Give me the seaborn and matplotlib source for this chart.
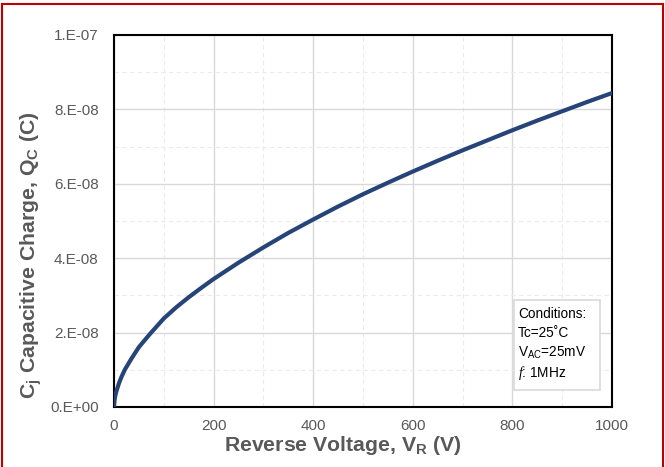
import matplotlib
matplotlib.use("Agg")
import matplotlib.pyplot as plt
from matplotlib.patches import Rectangle
from matplotlib.ticker import FixedLocator, FixedFormatter, MultipleLocator
import pandas as pd
import seaborn as sns

# Capacitive charge vs. reverse voltage (nC)
voltage_v = [0, 1, 2, 3, 5, 10, 15, 22, 35, 50, 72, 100, 125, 150, 175, 200, 250, 300, 350, 400,
             450, 500, 550, 600, 650, 700, 750, 800, 850, 900, 950, 1000]
charge_nc = [0, 1.7, 2.6, 3.3, 4.3, 6.4, 8.1, 10.1, 13.0, 16.1, 19.6, 23.8, 26.8, 29.5, 32.0, 34.4,
             38.8, 42.9, 46.8, 50.4, 53.9, 57.2, 60.3, 63.3, 66.2, 69.0, 71.7, 74.4, 77.0, 79.5, 82.0, 84.4]

y_ticks = [0, 2e-8, 4e-8, 6e-8, 8e-8, 1e-7]
y_tick_labels = ["0.E+00", "2.E-08", "4.E-08", "6.E-08", "8.E-08", "1.E-07"]
x_ticks = [0, 200, 400, 600, 800, 1000]
x_tick_labels = ["0", "200", "400", "600", "800", "1000"]

conditions = ["Conditions:", "Tc=25˚C", r"V$_\mathregular{AC}$=25mV", r"$\mathit{f}$: 1MHz"]

df = pd.DataFrame({"V": voltage_v, "Q": [q * 1e-9 for q in charge_nc]})

sns.set_theme(style="white")
plt.rcParams["font.family"] = ["Liberation Sans", "DejaVu Sans"]
plt.rcParams["mathtext.fontset"] = "custom"
plt.rcParams["mathtext.rm"] = "Liberation Sans"
plt.rcParams["mathtext.bf"] = "Liberation Sans:bold"
plt.rcParams["mathtext.it"] = "Liberation Serif:italic"

gray = "#595959"

fig = plt.figure(figsize=(6.65, 4.67), dpi=100)
ax = fig.add_axes([114 / 665, 1 - 407 / 467, 498 / 665, 372 / 467])

sns.lineplot(data=df, x="V", y="Q", ax=ax, color="#264478", linewidth=3.0, zorder=5)
ax.lines[0].set_solid_joinstyle("round")

ax.set_xlim(0, 1000)
ax.set_ylim(0, 1e-7)
ax.xaxis.set_major_locator(FixedLocator(x_ticks))
ax.xaxis.set_major_formatter(FixedFormatter(x_tick_labels))
ax.yaxis.set_major_locator(FixedLocator(y_ticks))
ax.yaxis.set_major_formatter(FixedFormatter(y_tick_labels))
ax.xaxis.set_minor_locator(MultipleLocator(100))
ax.yaxis.set_minor_locator(MultipleLocator(1e-8))

ax.grid(True, which="major", color="#D9D9D9", linewidth=1.0, linestyle="-")
ax.grid(True, which="minor", color="#EBEBEB", linewidth=0.8, linestyle=(0, (4, 3)))
ax.set_axisbelow(True)

ax.tick_params(axis="both", which="both", length=0, labelsize=11, labelcolor=gray)
ax.tick_params(axis="y", pad=11)
ax.tick_params(axis="x", pad=9)

for s in ax.spines.values():
    s.set_color("black")
    s.set_linewidth(1.5)
    s.set_visible(True)

ax.set_xlabel(r"Reverse Voltage, V$_\mathbf{R}$ (V)", fontsize=15.3, fontweight="bold", color=gray)
ax.set_ylabel(r"C$_\mathbf{j}$ Capacitive Charge, Q$_\mathbf{C}$ (C)", fontsize=15.3, fontweight="bold", color=gray)
ax.xaxis.set_label_coords((343 - 114) / 498, (407 - 434) / 372)
ax.yaxis.set_label_coords((44 - 114) / 498, (407 - 255) / 372)

# Test-conditions box
ax.add_patch(Rectangle((400 / 498, 17 / 372), 86 / 498, 90 / 372, transform=ax.transAxes,
                       facecolor="white", edgecolor="#D9D9D9", linewidth=1.2, zorder=6))
baselines = [318, 337, 357, 377]
for line, yb in zip(conditions, baselines):
    ax.text((518 - 114) / 498, (407 - yb) / 372, line, transform=ax.transAxes,
            fontsize=9.8, color="black", ha="left", va="baseline", zorder=7)

# Red outline around the figure
fig.patches.append(Rectangle((2 / 665, -0.05), 661 / 665, 1.05 - 4 / 467, transform=fig.transFigure,
                             fill=False, edgecolor="#C00000", linewidth=1.5))

fig.savefig("out.png", dpi=100, facecolor="white")
